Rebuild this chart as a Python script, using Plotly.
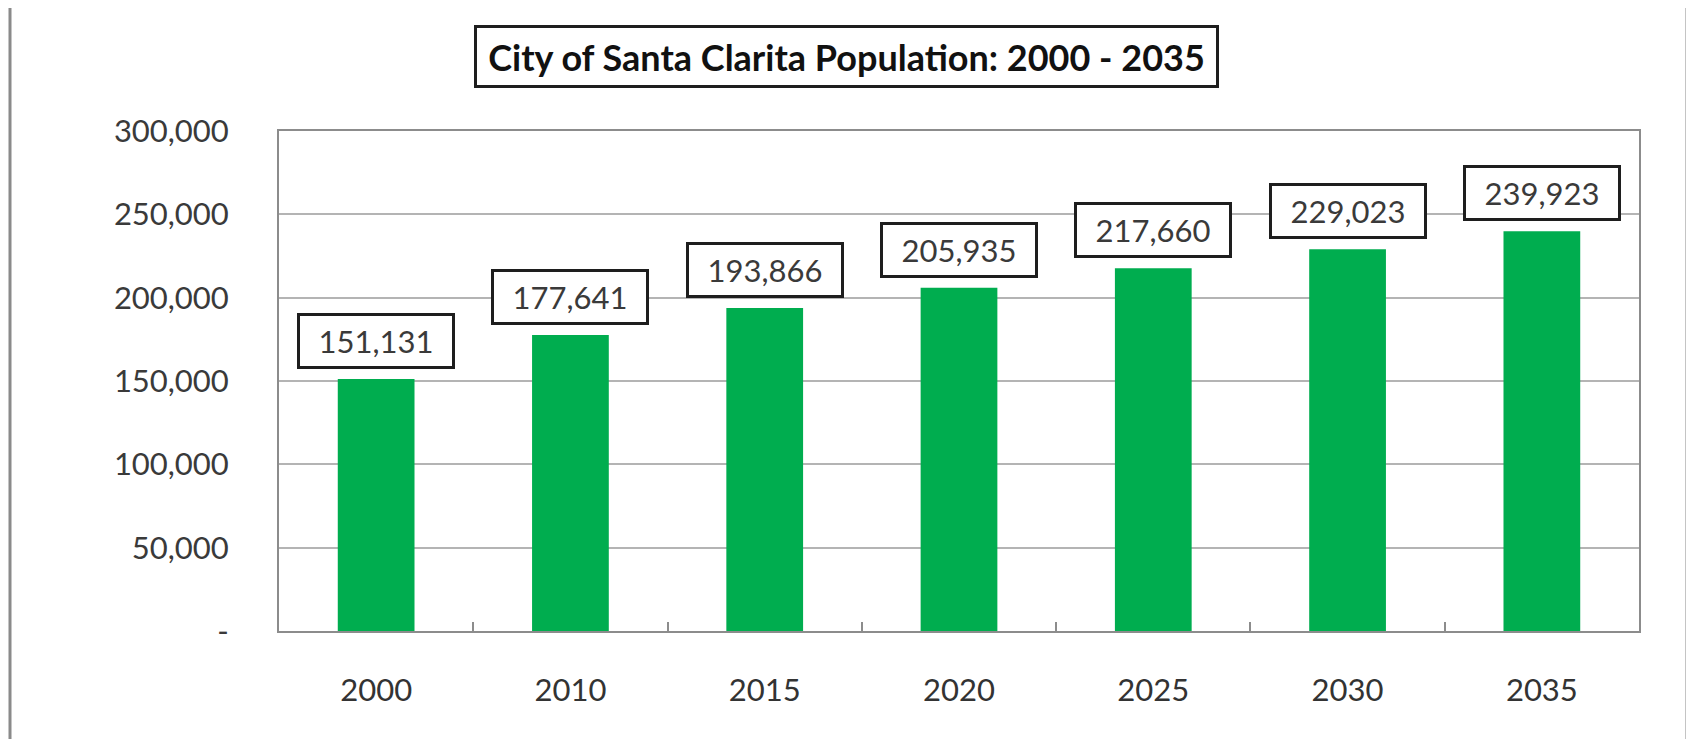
import plotly.graph_objects as go

years = ["2000", "2010", "2015", "2020", "2025", "2030", "2035"]
population = [151131, 177641, 193866, 205935, 217660, 229023, 239923]
y_tick_vals = [0, 50000, 100000, 150000, 200000, 250000, 300000]
y_tick_text = ["-", "50,000", "100,000", "150,000", "200,000", "250,000", "300,000"]
title_text = "City of Santa Clarita Population: 2000 - 2035"

FONT = "Lato"
W, H = 1694, 739
OFF = 8  # page body margin
L, T = 279 - OFF, 131 - OFF
pw, ph = 1360, 500
R, B = W - L - pw, H - T - ph

def px_x(x):
    return (x - OFF - L) / pw

def px_y(y):
    return (T + ph - (y - OFF)) / ph

fig = go.Figure()
fig.add_trace(go.Bar(
    x=years, y=population,
    marker=dict(color="#00AD4F", line=dict(width=0)),
    width=0.395,
    hoverinfo="x+y",
))

annotations = []
for i, v in enumerate(population):
    annotations.append(dict(
        x=i, y=v, xref="x", yref="y",
        text=f"{v:,}", showarrow=False,
        yanchor="bottom", yshift=10,
        font=dict(family=FONT, size=31, color="#3a3a3a"),
        bgcolor="white", bordercolor="#1e1e1e", borderwidth=3,
        borderpad=4, width=144, height=42,
    ))

annotations.append(dict(
    x=px_x(846.5), y=px_y(56.5), xref="paper", yref="paper",
    text=f"<b>{title_text}</b>", showarrow=False,
    xanchor="center", yanchor="middle",
    font=dict(family=FONT, size=36, color="#111111"),
    bgcolor="white", bordercolor="#1e1e1e", borderwidth=3,
    borderpad=5, width=729, height=47,
))

shapes = [
    dict(type="line", xref="paper", yref="paper",
         x0=px_x(10), x1=px_x(10), y0=px_y(6), y1=px_y(780),
         line=dict(color="#8a8a8a", width=3)),
    dict(type="line", xref="paper", yref="paper",
         x0=px_x(1687), x1=px_x(1687), y0=px_y(6), y1=px_y(780),
         line=dict(color="#8a8a8a", width=3)),
    dict(type="line", xref="paper", yref="paper",
         x0=px_x(10), x1=px_x(1687), y0=px_y(6), y1=px_y(6),
         line=dict(color="#dddddd", width=3)),
]

fig.update_layout(
    width=W, height=H,
    margin=dict(l=L, r=R, t=T, b=B, pad=0, autoexpand=False),
    paper_bgcolor="white", plot_bgcolor="white",
    showlegend=False,
    annotations=annotations,
    shapes=shapes,
)
fig.update_xaxes(
    type="category", range=[-0.5, 6.5], autorange=False, automargin=False,
    showline=True, linecolor="#8c8c8c", linewidth=2, mirror=True,
    ticks="inside", tickson="boundaries", ticklen=9, tickcolor="#8c8c8c", tickwidth=2,
    tickfont=dict(family=FONT, size=31, color="#333333"),
    tickangle=0,
    ticklabelstandoff=31,
    showgrid=False,
)
fig.update_yaxes(
    range=[0, 300000], autorange=False, automargin=False,
    tickvals=y_tick_vals, ticktext=y_tick_text,
    showline=True, linecolor="#8c8c8c", linewidth=2, mirror=True,
    showgrid=True, gridcolor="#b4b4b4", gridwidth=2,
    ticks="",
    tickfont=dict(family=FONT, size=31, color="#3a3a3a"),
    ticklabelstandoff=42,
    zeroline=False,
)

fig.write_html("out.html")
